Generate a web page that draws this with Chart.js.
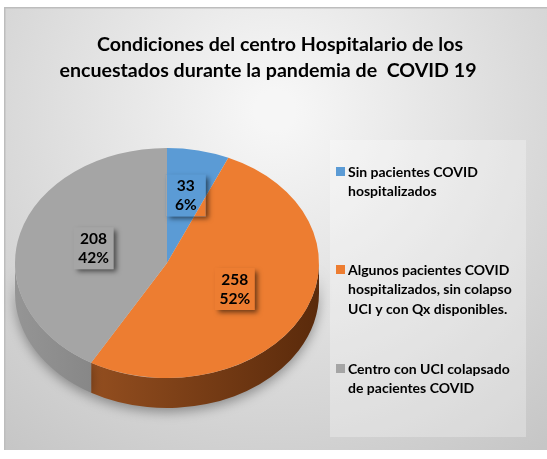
<!DOCTYPE html>
<html>
<head>
<meta charset="utf-8">
<script src="https://cdn.jsdelivr.net/npm/chart.js@4.4.0/dist/chart.umd.min.js"></script>
<style>
  html, body { margin: 0; padding: 0; background: #fff; }
  #wrap { width: 547px; height: 459px; }
</style>
</head>
<body>
<div id="wrap"><canvas id="myPieChart" width="547" height="459"></canvas></div>
<script>
// data
var titleLines = ['Condiciones del centro Hospitalario de los', 'encuestados durante la pandemia de  COVID 19'];
var categories = [
    ['Sin pacientes COVID', 'hospitalizados'],
    ['Algunos pacientes COVID', 'hospitalizados, sin colapso', 'UCI y con Qx disponibles.'],
    ['Centro con UCI colapsado', 'de pacientes COVID']
];
var counts = [33, 258, 208];
var percentLabels = ['6%', '52%', '42%'];

var sliceColors = ['#5b9bd5', '#ed7d31', '#a5a5a5'];
var sideColors = [['#3f77a8', '#2a5680'], ['#a65a26', '#5a2a0b'], ['#959595', '#5e5e5e']];

var tilt = 0.757;   // vertical squash of the pie
var depth = 30;     // thickness of the pie
var fontFam = 'Lato, "Open Sans", sans-serif';

function pieGeom(chart) {
    var arcs = chart.getDatasetMeta(0).data;
    return { arcs: arcs, cx: arcs[0].x, cy: arcs[0].y, r: arcs[0].outerRadius };
}

var framePlugin = {
    id: 'frame',
    beforeDraw: function (chart) {
        var ctx = chart.ctx;
        ctx.save();
        ctx.fillStyle = '#ffffff';
        ctx.fillRect(0, 0, chart.width, chart.height);
        var g = ctx.createRadialGradient(275, 110, 20, 275, 110, 430);
        g.addColorStop(0, '#f6f6f6');
        g.addColorStop(1, '#c6c6c6');
        ctx.fillStyle = g;
        ctx.fillRect(4, 7, 543, 443);
        ctx.fillStyle = '#bdbdbd';
        ctx.fillRect(4, 7, 543, 1.5);
        ctx.fillRect(4, 7, 1.5, 443);

        // legend box
        ctx.fillStyle = 'rgba(255,255,255,0.28)';
        ctx.fillRect(330, 140, 196, 297);

        // title
        ctx.fillStyle = '#000';
        ctx.font = 'bold 19.6px ' + fontFam;
        ctx.textAlign = 'center';
        ctx.textBaseline = 'middle';
        ctx.fillText(titleLines[0], 280, 45);
        ctx.fillText(titleLines[1], 268, 71);
        ctx.restore();
    }
};

var tiltPlugin = {
    id: 'tilt',
    beforeDatasetsDraw: function (chart) {
        var ctx = chart.ctx;
        var p = pieGeom(chart);
        // side walls of the front half
        ctx.save();
        ctx.shadowColor = 'rgba(0,0,0,0.35)';
        ctx.shadowBlur = 12;
        ctx.shadowOffsetY = 4;
        p.arcs.forEach(function (arc, i) {
            [-2 * Math.PI, 0, 2 * Math.PI].forEach(function (shift) {
                var lo = Math.max(arc.startAngle, shift);
                var hi = Math.min(arc.endAngle, shift + Math.PI);
                if (hi <= lo) return;
                var g = ctx.createLinearGradient(p.cx - p.r, 0, p.cx + p.r, 0);
                g.addColorStop(0, sideColors[i][0]);
                g.addColorStop(1, sideColors[i][1]);
                ctx.fillStyle = g;
                ctx.beginPath();
                ctx.ellipse(p.cx, p.cy, p.r, p.r * tilt, 0, lo, hi);
                ctx.ellipse(p.cx, p.cy + depth, p.r, p.r * tilt, 0, hi, lo, true);
                ctx.closePath();
                ctx.fill();
            });
        });
        ctx.restore();
        // squash the top face
        ctx.save();
        ctx.translate(p.cx, p.cy);
        ctx.scale(1, tilt);
        ctx.translate(-p.cx, -p.cy);
    },
    afterDatasetsDraw: function (chart) {
        chart.ctx.restore();
    },
    afterDraw: function (chart) {
        var ctx = chart.ctx;
        var p = pieGeom(chart);

        // data labels with a drop shadow box
        p.arcs.forEach(function (arc, i) {
            var span = arc.endAngle - arc.startAngle;
            var mid = (arc.startAngle + arc.endAngle) / 2;
            var frac = span < 0.6 ? 0.6 : 0.5;
            var x = p.cx + Math.cos(mid) * p.r * frac;
            var y = p.cy + Math.sin(mid) * p.r * frac * tilt;
            var w = 40, h = 42;
            var bx = x - w / 2, by = y - h / 2;
            ctx.save();
            ctx.beginPath();
            ctx.rect(0, 0, chart.width, chart.height);
            ctx.rect(bx, by, w, h);
            ctx.clip('evenodd');
            ctx.shadowColor = 'rgba(0,0,0,0.55)';
            ctx.shadowBlur = 5;
            ctx.shadowOffsetX = 3;
            ctx.shadowOffsetY = 3;
            ctx.fillStyle = sliceColors[i];
            ctx.fillRect(bx, by, w, h);
            ctx.restore();

            ctx.save();
            ctx.fillStyle = '#000';
            ctx.font = 'bold 15.5px ' + fontFam;
            ctx.textAlign = 'center';
            ctx.textBaseline = 'middle';
            ctx.fillText(String(counts[i]), x, y - 9);
            ctx.fillText(percentLabels[i], x, y + 10);
            ctx.restore();
        });

        // legend
        var itemTops = [172, 270, 369];
        ctx.save();
        ctx.font = 'bold 14px ' + fontFam;
        ctx.textAlign = 'left';
        ctx.textBaseline = 'middle';
        categories.forEach(function (lines, i) {
            ctx.fillStyle = sliceColors[i];
            ctx.fillRect(336, itemTops[i] - 5, 9, 9);
            ctx.fillStyle = '#000';
            lines.forEach(function (t, j) {
                ctx.fillText(t, 348, itemTops[i] + j * 19.5);
            });
        });
        ctx.restore();
    }
};

var chartdata = {
    labels: categories,
    datasets: [{
        data: counts,
        backgroundColor: sliceColors,
        borderWidth: 0,
        hoverOffset: 0
    }]
};

var pieGraph = new Chart(document.getElementById('myPieChart'), {
    type: 'pie',
    data: chartdata,
    options: {
        responsive: false,
        animation: false,
        events: [],
        layout: { padding: { left: 15, right: 228, top: 111, bottom: 44 } },
        plugins: {
            legend: { display: false },
            title: { display: false },
            tooltip: { enabled: false }
        }
    },
    plugins: [framePlugin, tiltPlugin]
});
</script>
</body>
</html>
